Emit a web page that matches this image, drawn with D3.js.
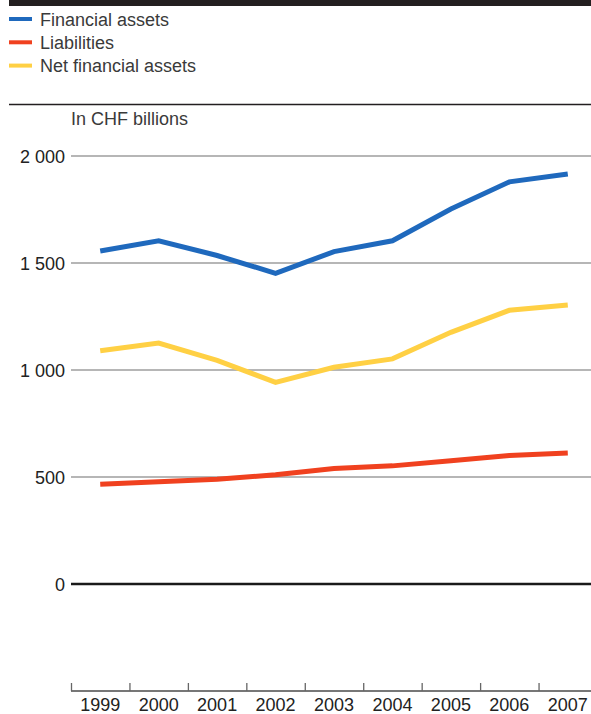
<!DOCTYPE html>
<html><head><meta charset="utf-8">
<script src="https://cdn.jsdelivr.net/npm/d3@7"></script>
<style>body{margin:0;background:#fff}svg{display:block;font-family:"Liberation Sans",Arial,sans-serif}</style>
</head><body><svg id="c" width="591" height="714"></svg>
<script>
const years = ["1999","2000","2001","2002","2003","2004","2005","2006","2007"];
const financialAssets = [1556, 1604, 1535, 1452, 1553, 1604, 1752, 1879, 1916];
const liabilities = [466, 478, 490, 510, 540, 552, 576, 600, 612];
const netFinancialAssets = [1090, 1126, 1045, 942, 1013, 1052, 1176, 1279, 1304];
const yTicks = [0, 500, 1000, 1500, 2000];
const seriesNames = ["Financial assets", "Liabilities", "Net financial assets"];
const seriesColors = ["#1f69bd", "#f0411f", "#ffd044"];
const unitLabel = "In CHF billions";

const svg = d3.select("#c");
const W = 591;
const FS = 18;
const x = d3.scaleBand().domain(years).range([71, 597]).paddingInner(0).paddingOuter(0);
const y = d3.scaleLinear().domain([-500, 2000]).range([691, 156]);

// top bar
svg.append("rect").attr("x", 9).attr("y", 0).attr("width", W - 9).attr("height", 6).attr("fill", "#231f20");

// legend
const series = [financialAssets, liabilities, netFinancialAssets];
seriesNames.forEach((n, i) => {
  const yy = 19 + i * 23.3;
  svg.append("line").attr("x1", 9).attr("x2", 32).attr("y1", yy).attr("y2", yy)
    .attr("stroke", seriesColors[i]).attr("stroke-width", 4);
  svg.append("text").attr("x", 40).attr("y", yy + 6.5).attr("font-size", FS).attr("fill", "#3a3a3a").text(n);
});

// separator
svg.append("line").attr("x1", 9).attr("x2", W).attr("y1", 104.5).attr("y2", 104.5).attr("stroke", "#231f20").attr("stroke-width", 1.3);
svg.append("text").attr("x", 71).attr("y", 124.5).attr("font-size", FS).attr("fill", "#3a3a3a").text(unitLabel);

// y grid
const fmt = v => v >= 1000 ? Math.floor(v / 1000) + " " + String(v % 1000).padStart(3, "0") : String(v);
const g = svg.append("g");
yTicks.forEach(v => {
  g.append("line").attr("x1", 71).attr("x2", W).attr("y1", y(v)).attr("y2", y(v))
    .attr("stroke", v === 0 ? "#1a1a1a" : "#6e6e6e").attr("stroke-width", v === 0 ? 2.6 : 1.2);
  g.append("text").attr("x", 65).attr("y", y(v) + 6.5).attr("text-anchor", "end")
    .attr("font-size", FS).attr("fill", "#222").text(fmt(v));
});

// x axis
const xAxis = d3.axisBottom(x).tickSize(0).tickFormat(d => d);
const ax = svg.append("g").attr("transform", `translate(0,${y(-500)})`).call(xAxis);
ax.select(".domain").remove();
ax.selectAll("text").attr("font-size", FS).attr("fill", "#222").attr("dy", 0).attr("y", 20)
  .attr("font-family", "Liberation Sans, Arial, sans-serif");
svg.append("line").attr("x1", 71).attr("x2", W).attr("y1", y(-500)).attr("y2", y(-500)).attr("stroke", "#777").attr("stroke-width", 2);
years.forEach(d => {
  const xx = x(d) + 0.5;
  svg.append("line").attr("x1", xx).attr("x2", xx).attr("y1", y(-500)).attr("y2", y(-500) - 8).attr("stroke", "#666").attr("stroke-width", 1.3);
});

// lines
const line = d3.line().x((d, i) => x(years[i]) + x.bandwidth() / 2).y(d => y(d));
[netFinancialAssets, financialAssets, liabilities].forEach(s => {
  const idx = series.indexOf(s);
  svg.append("path").attr("d", line(s)).attr("fill", "none")
    .attr("stroke", seriesColors[idx]).attr("stroke-width", 5).attr("stroke-linejoin", "miter");
});
</script></body></html>
